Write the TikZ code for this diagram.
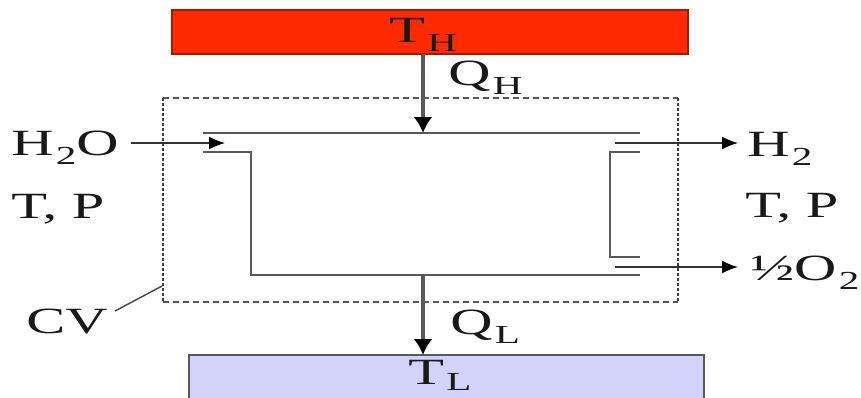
\documentclass[tikz,border=0pt]{standalone}
\usepackage{fontspec}
\setmainfont{Liberation Serif}
\usetikzlibrary{arrows.meta}
\newcommand{\lowtxt}[2][9pt]{\kern1.5pt\raisebox{-#1}{\fontsize{26}{26}\selectfont #2}}
\definecolor{hotred}{HTML}{FF2A00}
\definecolor{coldblue}{HTML}{D2D2FA}
\tikzset{
  x=1pt,y=-1pt,
  lbl/.style={inner sep=0pt,anchor=base west,font=\fontsize{37}{37}\selectfont,xscale=1.58,text=black!90},
  wall/.style={draw=black!65,line width=2.2pt},
  flow/.style={draw=black!80,line width=1.5pt,-{Latex[length=16pt,width=13pt,black]}},
  heat/.style={draw=black!65,line width=3.2pt,-{Latex[length=16pt,width=19pt,black]}},
  cvbox/.style={draw=black!65,line width=1.3pt,dash pattern=on 6pt off 4pt},
  cvside/.style={draw=black!75,line width=2.4pt,dash pattern=on 2.6pt off 2.4pt},
  reservoir/.style={line width=1.5pt,inner sep=0pt}
}
\begin{document}
\begin{tikzpicture}
\useasboundingbox (0,0) rectangle (861,397);
\path[clip] (0,0) rectangle (861,397);
% reservoirs
\node[reservoir,draw=hotred!65!black,fill=hotred,minimum width=516pt,minimum height=44pt] (hot) at (430,32) {};
\node[reservoir,draw=black!65,fill=coldblue,minimum width=515pt,minimum height=60pt] (cold) at (446.5,385) {};
% control volume
\coordinate (cvTL) at (163,98);
\coordinate (cvTR) at (678,98);
\coordinate (cvBL) at (163,302);
\coordinate (cvBR) at (678,302);
\draw[cvbox] (cvTL) -- (cvTR);
\draw[cvbox] (cvBL) -- (cvBR);
\draw[cvside] (cvTL) -- (cvBL);
\draw[cvside] (cvTR) -- (cvBR);
% cell walls
\coordinate (topL) at (203,133);
\coordinate (topR) at (640,133);
\coordinate (topM) at (423,133);
\coordinate (inL) at (203,152);
\coordinate (inC) at (251,152);
\coordinate (botC) at (251,275);
\coordinate (botR) at (640,275);
\coordinate (botM) at (423,275);
\coordinate (rA) at (640,152);
\coordinate (rB) at (610,152);
\coordinate (rC) at (610,257);
\coordinate (rD) at (640,257);
\draw[wall] (topL) -- (topR);
\draw[wall] (inL) -- (inC) -- (botC) -- (botR);
\draw[wall] (rA) -- (rB) -- (rC) -- (rD);
% heat flows
\coordinate (hotOut) at (423,54);
\coordinate (coldIn) at (423,355);
\draw[heat] (hotOut) -- (topM);
\draw[heat] (botM) -- (coldIn);
% mass flows
\coordinate (inA) at (131,143);
\coordinate (inB) at (225,143);
\coordinate (h2A) at (615,143);
\coordinate (h2B) at (738,143);
\coordinate (o2A) at (615,267);
\coordinate (o2B) at (738,267);
\draw[flow] (inA) -- (inB);
\draw[flow] (h2A) -- (h2B);
\draw[flow] (o2A) -- (o2B);
% labels
\node[lbl] (th) at (389,42) {T\lowtxt{H}};
\node[lbl] (tl) at (408,384) {T\lowtxt[6.5pt]{L}};
\node[lbl] (qh) at (448,85) {Q\lowtxt{H}};
\node[lbl] (ql) at (450,334) {Q\lowtxt{L}};
\node[lbl] (h2o) at (11,155) {H\lowtxt{2}O};
\node[lbl] (tpl) at (11,218) {T, P};
\node[lbl] (h2) at (747,156) {H\lowtxt{2}};
\node[lbl] (tpr) at (745,217) {T, P};
\node[lbl] (o2) at (750,280) {½O\lowtxt{2}};
\node[lbl] (cv) at (26,333) {CV};
\coordinate (cvFoot) at (115,311);
\coordinate (cvTick) at (162,286);
\draw[draw=black!70,line width=1.5pt] (cvFoot) -- (cvTick);
\end{tikzpicture}
\end{document}
